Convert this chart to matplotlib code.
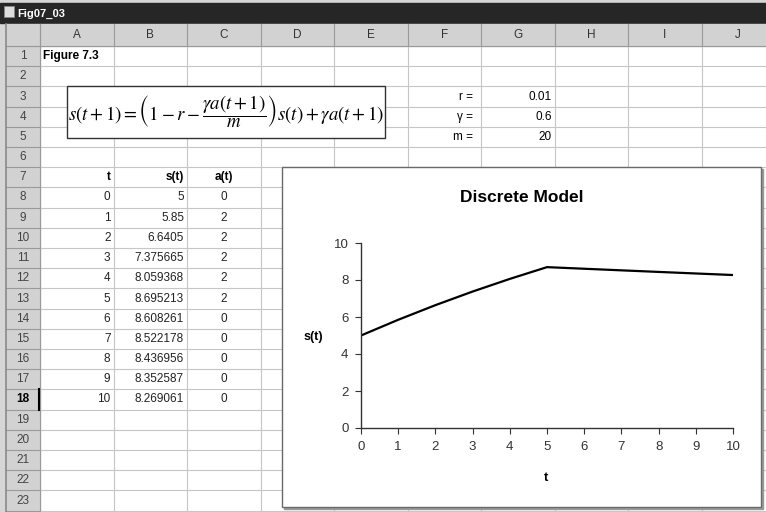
import matplotlib
matplotlib.use('Agg')
import matplotlib.pyplot as plt
from matplotlib.patches import Rectangle

plt.rcParams['font.family'] = ['Liberation Sans', 'DejaVu Sans']
plt.rcParams['mathtext.fontset'] = 'stix'

# data from the sheet
t_vals = [0, 1, 2, 3, 4, 5, 6, 7, 8, 9, 10]
s_vals = [5, 5.85, 6.6405, 7.375665, 8.059368, 8.695213, 8.608261,
          8.522178, 8.436956, 8.352587, 8.269061]
a_vals = [0, 2, 2, 2, 2, 2, 0, 0, 0, 0, 0]
param_names = ['r =', 'γ =', 'm =']
param_vals = ['0.01', '0.6', '20']
col_letters = ['A', 'B', 'C', 'D', 'E', 'F', 'G', 'H', 'I', 'J']
row_numbers = list(range(1, 24))
y_ticks = [0, 2, 4, 6, 8, 10]

W, H = 766, 512
fig = plt.figure(figsize=(W / 100, H / 100), dpi=100)
sh = fig.add_axes([0, 0, 1, 1])
sh.set_xlim(0, W)
sh.set_ylim(H, 0)
sh.axis('off')

# sheet geometry (pixels)
x0 = 40
cw = 73.5
col_edges = [x0 + cw * i for i in range(11)]
y0 = 46
rh = 20.2
row_edges = [y0 + rh * i for i in range(24)]

def row_mid(r):
    return y0 + rh * (r - 0.5)

def col_left(c):
    return col_edges[c]

def col_right(c):
    return col_edges[c + 1]

# window frame + title bar
sh.add_patch(Rectangle((0, 0), W, H, color='#d6d6d6', zorder=0))
sh.add_patch(Rectangle((0, 3), W, 20, color='#262626', zorder=1))
sh.add_patch(Rectangle((4, 6), 10, 11, facecolor='#dddddd', edgecolor='#888888', lw=0.6, zorder=2))
sh.text(17, 13.5, 'Fig07_03', color='white', fontsize=8, fontweight='bold', va='center', zorder=3)

# cell area
sh.add_patch(Rectangle((x0, y0), W - x0, H - y0, color='white', zorder=1))
for y in row_edges:
    sh.plot([x0, W], [y, y], color='#c6c6c6', lw=0.8, zorder=2)
for x in col_edges:
    sh.plot([x, x], [y0, H], color='#c6c6c6', lw=0.8, zorder=2)

# headers
sh.add_patch(Rectangle((6, 24), W - 6, y0 - 24, color='#d2d2d2', zorder=2))
sh.add_patch(Rectangle((6, y0), x0 - 6, H - y0, color='#d2d2d2', zorder=2))
for x in col_edges:
    sh.plot([x, x], [24, y0], color='#9a9a9a', lw=0.8, zorder=3)
for y in row_edges:
    sh.plot([6, x0], [y, y], color='#9a9a9a', lw=0.8, zorder=3)
sh.plot([6, W], [y0, y0], color='#9a9a9a', lw=0.8, zorder=3)
sh.plot([x0, x0], [24, H], color='#9a9a9a', lw=0.8, zorder=3)
sh.plot([6, 6], [24, H], color='#8a8a8a', lw=1.2, zorder=3)
for i, c in enumerate(col_letters):
    sh.text((col_edges[i] + col_edges[i + 1]) / 2, 35, c, ha='center', va='center',
            fontsize=8.5, color='#333333', zorder=4)
for r in row_numbers:
    sh.text(23, row_mid(r), str(r), ha='center', va='center', fontsize=8.5,
            color='#000000' if r == 18 else '#444444',
            fontweight='bold' if r == 18 else 'normal', zorder=4)
sh.plot([x0 - 1, x0 - 1], [row_edges[17], row_edges[18]], color='black', lw=1.5, zorder=4)

fs = 8.5
sh.text(col_left(0) + 3, row_mid(1), 'Figure 7.3', fontsize=fs, fontweight='bold',
        va='center', zorder=4)

# formula box
sh.add_patch(Rectangle((67, 86), 318, 52, facecolor='white', edgecolor='#333333', lw=1.0, zorder=5))
sh.text(226, 112, r'$s(t+1)=\left(1-r-\dfrac{\gamma a(t+1)}{m}\right)s(t)+\gamma a(t+1)$',
        ha='center', va='center', fontsize=13.5, zorder=6)

# parameters
for i, (nm, v) in enumerate(zip(param_names, param_vals)):
    sh.text(col_right(5) - 8, row_mid(3 + i), nm, ha='right', va='center', fontsize=fs, zorder=4)
    sh.text(col_right(6) - 3, row_mid(3 + i), v, ha='right', va='center', fontsize=fs, zorder=4)

# table
sh.text(col_right(0) - 3, row_mid(7), 't', ha='right', va='center', fontsize=fs, fontweight='bold', zorder=4)
sh.text(col_right(1) - 3, row_mid(7), 's(t)', ha='right', va='center', fontsize=fs, fontweight='bold', zorder=4)
sh.text((col_left(2) + col_right(2)) / 2, row_mid(7), 'a(t)', ha='center', va='center',
        fontsize=fs, fontweight='bold', zorder=4)
for i, (tv, sv, av) in enumerate(zip(t_vals, s_vals, a_vals)):
    r = 8 + i
    sh.text(col_right(0) - 3, row_mid(r), str(tv), ha='right', va='center', fontsize=fs, color='#222222', zorder=4)
    sh.text(col_right(1) - 3, row_mid(r), f'{sv:.10g}', ha='right', va='center', fontsize=fs, color='#222222', zorder=4)
    sh.text((col_left(2) + col_right(2)) / 2, row_mid(r), str(av), ha='center', va='center',
            fontsize=fs, color='#222222', zorder=4)

# chart object
cx0, cy0, cx1, cy1 = 282, 167, 761, 507
sh.add_patch(Rectangle((cx0 + 2, cy0 + 2), cx1 - cx0, cy1 - cy0, color='#9a9a9a', zorder=6))
sh.add_patch(Rectangle((cx0, cy0), cx1 - cx0, cy1 - cy0, facecolor='white', edgecolor='#6a6a6a', lw=1.0, zorder=7))
sh.text(522, 197, 'Discrete Model', ha='center', va='center', fontsize=12.5, fontweight='bold', zorder=8)
sh.text(313, 337, 's(t)', ha='center', va='center', fontsize=9, fontweight='bold', zorder=8)
sh.text(546, 478, 't', ha='center', va='center', fontsize=9.5, fontweight='bold', zorder=8)

px0, px1, py0, py1 = 361, 733, 428, 243
ax = fig.add_axes([px0 / W, 1 - py0 / H, (px1 - px0) / W, (py0 - py1) / H])
ax.set_zorder(10)
ax.patch.set_alpha(0)
ax.plot(t_vals, s_vals, color='black', lw=1.6, solid_joinstyle='miter')
ax.set_xlim(0, 10)
ax.set_ylim(0, 10)
ax.set_xticks(t_vals)
ax.set_yticks(y_ticks)
for side in ['top', 'right']:
    ax.spines[side].set_visible(False)
for side in ['left', 'bottom']:
    ax.spines[side].set_color('#333333')
    ax.spines[side].set_linewidth(1.0)
ax.tick_params(direction='out', length=4, width=0.8, color='#333333',
               labelsize=9.5, labelcolor='#333333', pad=5)

fig.savefig('out.png', dpi=100)
